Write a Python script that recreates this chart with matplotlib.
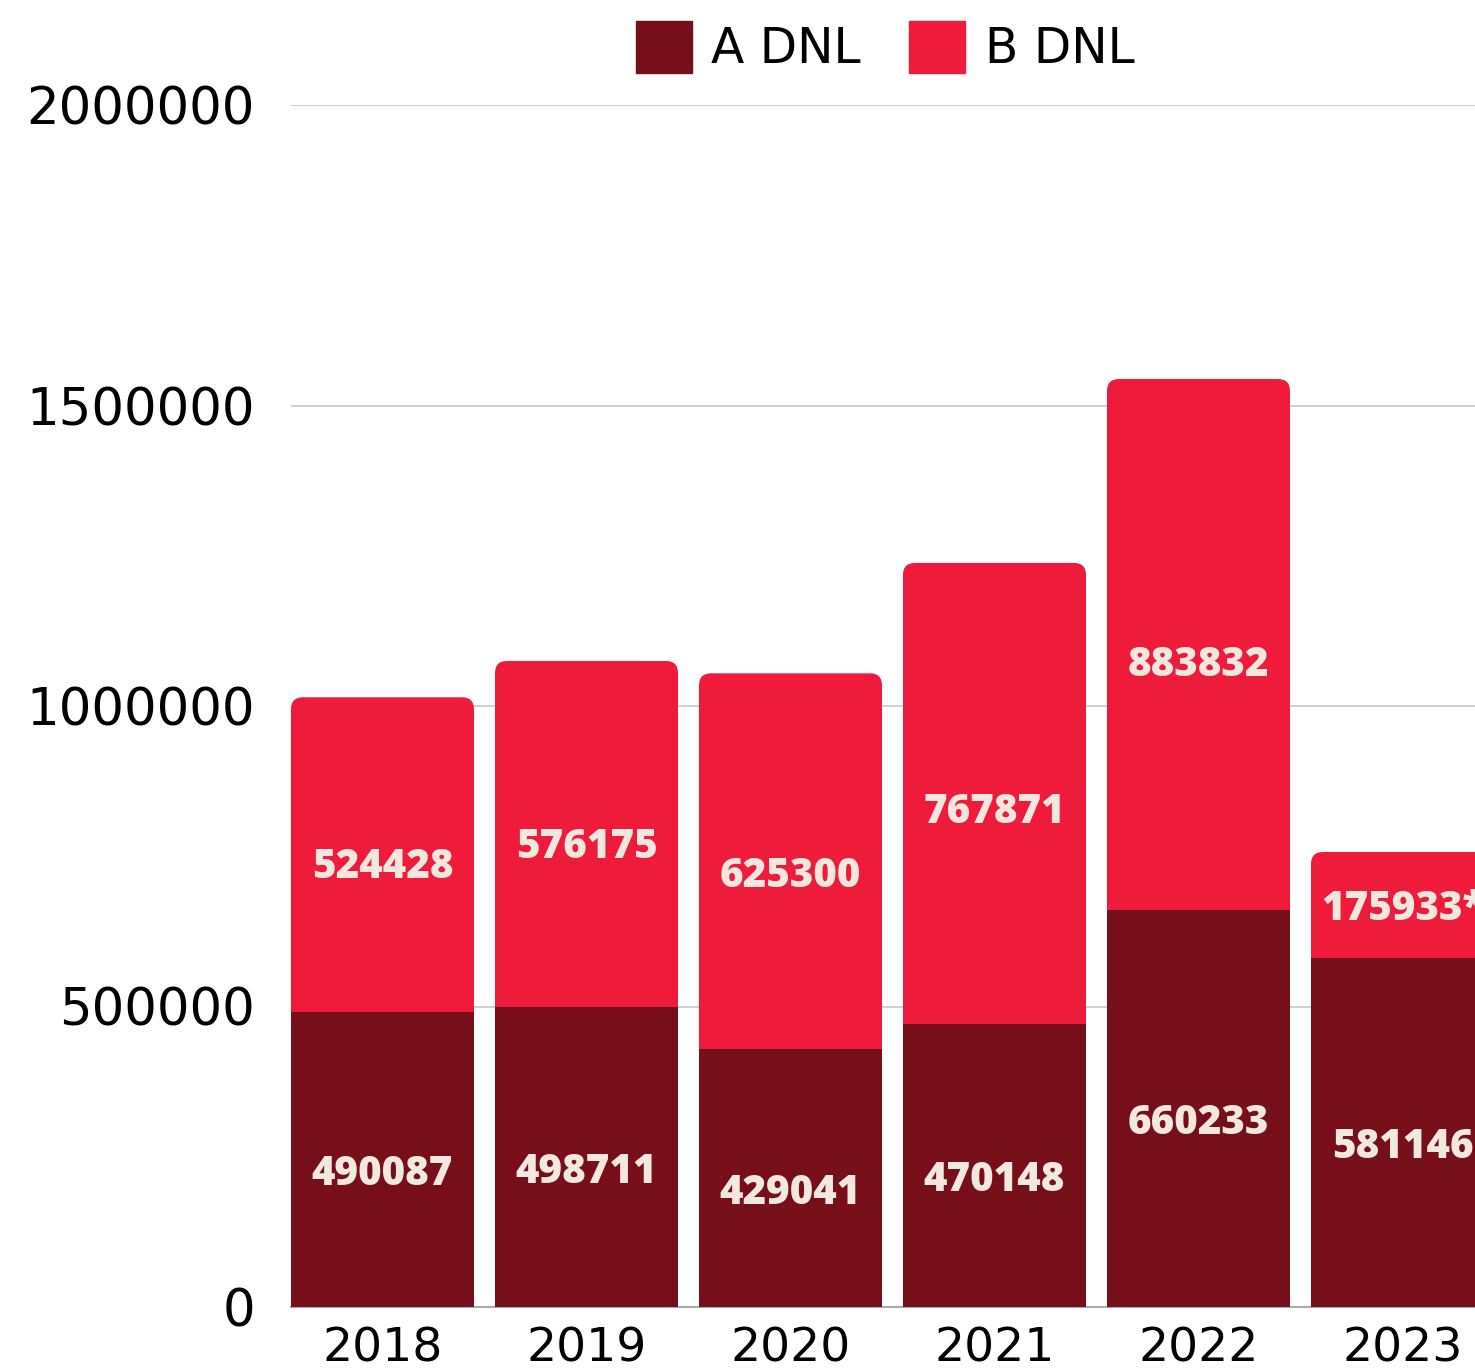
import matplotlib.pyplot as plt
from matplotlib.patches import FancyBboxPatch, Patch

years = ["2018", "2019", "2020", "2021", "2022", "2023"]
a_dnl = [490087, 498711, 429041, 470148, 660233, 581146]
b_dnl = [524428, 576175, 625300, 767871, 883832, 175933]
b_text = ["524428", "576175", "625300", "767871", "883832", "175933*"]
y_ticks = [0, 500000, 1000000, 1500000, 2000000]

dark = "#760f19"
red = "#ee1c3a"
label_col = "#f3e8df"

fig = plt.figure(figsize=(14.75, 13.7), dpi=100)
ax = fig.add_axes([291 / 1475, 1 - 1307 / 1370, 1 - 291 / 1475, (1307 - 105) / 1370])

x = list(range(len(years)))
width = 183 / 204
totals = [a + b for a, b in zip(a_dnl, b_dnl)]

ax.set_xlim(-width / 2, (1475 - 382.5) / 204)
ax.set_ylim(0, 2000000)

# B bars with rounded top corners (drawn from 0, bottom hidden under A)
rx = 12 / 204
ry = 12 / 601 * 1e6
bars_b = ax.bar(x, totals, width, color=red, zorder=2)
for rect in bars_b:
    bx, by = rect.get_x(), rect.get_y()
    bw, bh = rect.get_width(), rect.get_height()
    rect.remove()
    ax.add_patch(FancyBboxPatch((bx, by), bw, bh,
                                boxstyle=f"round,pad=0,rounding_size={rx}",
                                mutation_aspect=ry / rx,
                                facecolor=red, edgecolor="none", zorder=2))
ax.bar(x, a_dnl, width, color=dark, zorder=3)

for i in x:
    ax.text(i, a_dnl[i] / 2 - 25000, str(a_dnl[i]), ha="center", va="center",
            color=label_col, fontsize=29, fontweight="heavy", family="Open Sans",
            zorder=4, clip_on=True)
    ax.text(i, a_dnl[i] + b_dnl[i] * 0.46, b_text[i], ha="center", va="center",
            color=label_col, fontsize=29, fontweight="heavy", family="Open Sans",
            zorder=4, clip_on=True)

ax.set_yticks(y_ticks)
ax.set_yticklabels([str(v) for v in y_ticks], fontsize=37)
ax.set_xticks(x)
ax.set_xticklabels(years, fontsize=34)
ax.tick_params(axis="y", length=0, pad=26)
ax.tick_params(axis="x", length=0, pad=14)
ax.grid(axis="y", color="#cccccc", linewidth=1.3, zorder=0)
ax.set_axisbelow(True)
for s in ["top", "right", "left"]:
    ax.spines[s].set_visible(False)
ax.spines["bottom"].set_color("#aaaaaa")
ax.spines["bottom"].set_linewidth(1.5)

handles = [Patch(color=dark, label="A DNL"), Patch(color=red, label="B DNL")]
fig.legend(handles=handles, loc="center", bbox_to_anchor=(0.6, 1 - 47 / 1370),
           ncol=2, frameon=False, fontsize=35, handlelength=1.15, handleheight=1.3,
           handletextpad=0.4, columnspacing=1.0)

fig.savefig("out.png")
